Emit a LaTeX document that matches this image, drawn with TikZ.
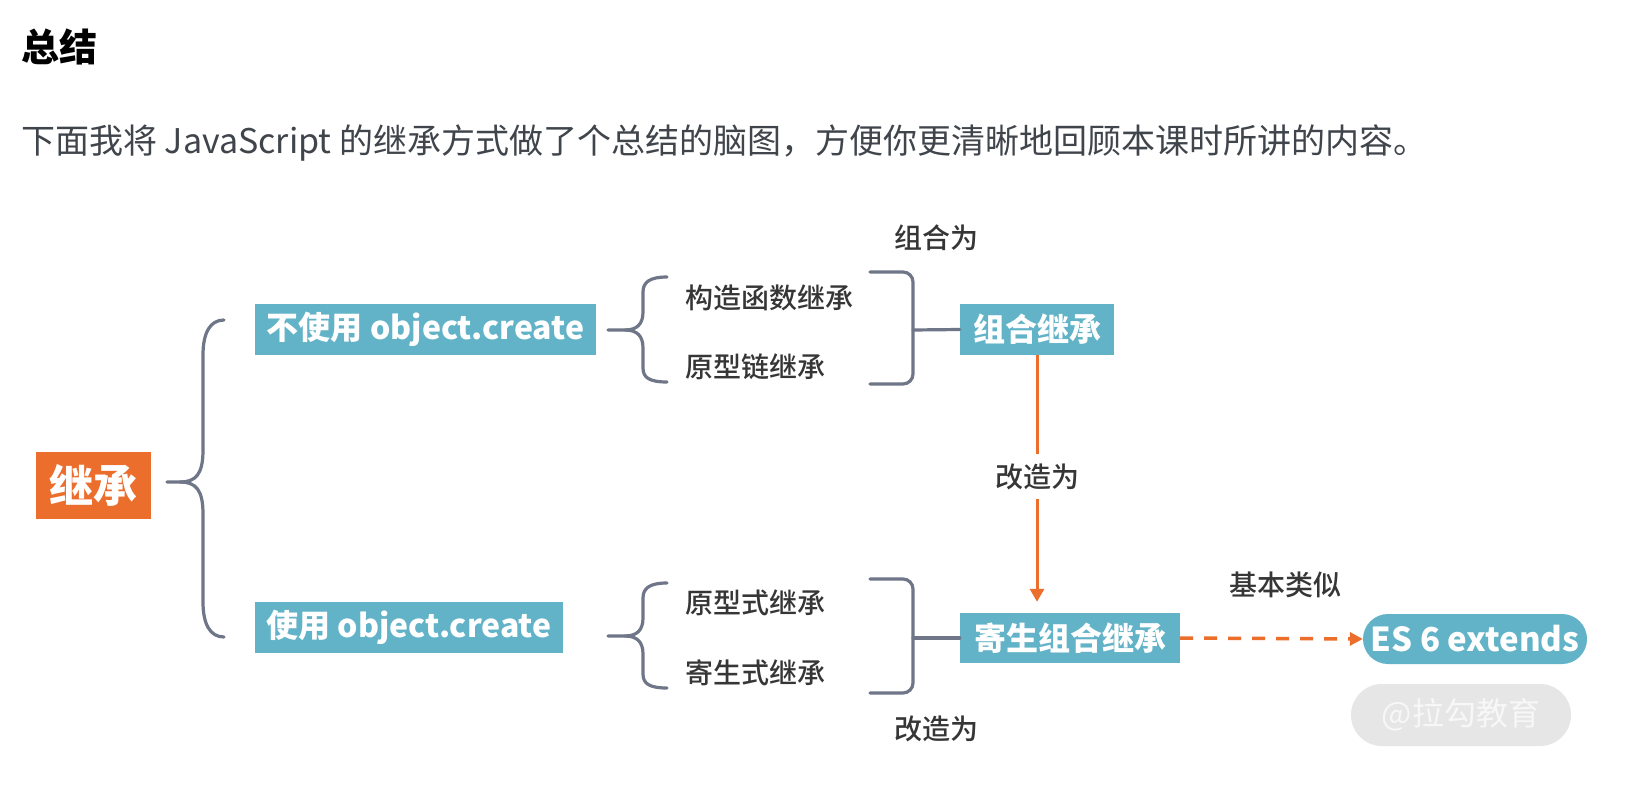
\documentclass[tikz,border=0pt]{standalone}
\usepackage{fontspec}
\usetikzlibrary{arrows.meta}
\newfontfamily\cjk{Noto Sans CJK SC}
\newfontfamily\cjkm{Noto Sans CJK SC Medium}
\definecolor{boxteal}{HTML}{62B3C7}
\definecolor{jorange}{HTML}{EC6E2D}
\definecolor{brkgray}{HTML}{6F7688}
\definecolor{lblgray}{HTML}{363636}
\definecolor{paragray}{HTML}{40454C}
\definecolor{wmfill}{HTML}{E6E6E6}
\definecolor{wmtext}{HTML}{F7F7F7}
\newcommand\fsz[1]{\fontsize{#1}{#1}\selectfont}
\begin{document}
\begin{tikzpicture}[x=1pt,y=-1pt,
  tbox/.style={fill=boxteal, text=white, inner sep=0pt, font=\cjk\bfseries\fsz{32}},
  lbl/.style={text=lblgray, inner sep=0pt, font=\cjkm\fsz{28}},
  brk/.style={draw=brkgray, line width=3.2pt, line cap=round, line join=round},
  arrline/.style={draw=jorange, line width=3pt},
  arr/.style={arrline, -{Triangle[length=13pt,width=14pt]}}]

\useasboundingbox (0,0) rectangle (1640,784);
\fill[white] (0,0) rectangle (1640,784);

% heading and paragraph
\node[anchor=west, inner sep=0pt, font=\cjk\bfseries\fsz{38}] (title) at (21,47) {总结};
\node[anchor=west, inner sep=0pt, text=paragray, font=\cjk\fsz{34}] (para) at (21,143)
  {下面我将 JavaScript 的继承方式做了个总结的脑图，方便你更清晰地回顾本课时所讲的内容。};

% nodes
\node[fill=jorange, text=white, inner sep=0pt, minimum width=115pt, minimum height=67pt,
  font=\cjk\bfseries\fsz{44}] (root) at (93.5,485.5) {继承};
\node[tbox, minimum width=341pt, minimum height=51pt] (nouse) at (425.5,329.5) {不使用 object.create};
\node[tbox, minimum width=308pt, minimum height=51pt] (use) at (409,627.5) {使用 object.create};
\node[lbl, anchor=west] (gz) at (685,298) {构造函数继承};
\node[lbl, anchor=west] (yxl) at (685,367) {原型链继承};
\node[lbl, anchor=west] (yxs) at (685,603) {原型式继承};
\node[lbl, anchor=west] (jss) at (685,673) {寄生式继承};
\node[tbox, minimum width=154pt, minimum height=51pt] (zh) at (1037,329.5) {组合继承};
\node[tbox, minimum width=220pt, minimum height=50pt] (jszh) at (1070,638) {寄生组合继承};
\node[tbox, rounded corners=25pt, minimum width=224pt, minimum height=50pt,
  font=\cjk\bfseries\fsz{33}] (es6) at (1475,639) {ES 6 extends};
\node[fill=wmfill, text=wmtext, rounded corners=31pt, minimum width=220pt, minimum height=62pt,
  inner sep=0pt, font=\cjk\fsz{32}] (wm) at (1461,715) {@拉勾教育};
\node[lbl] (l1) at (936,238) {组合为};
\node[lbl] (l2) at (1037,477) {改造为};
\node[lbl] (l3) at (936,729) {改造为};
\node[lbl] (l4) at (1285,585) {基本类似};

% brace coordinates
\coordinate (bTop) at (224,320);
\coordinate (bBot) at (224,637);
\coordinate (bTip) at (167,482);
\coordinate (s1Top) at (667,277);
\coordinate (s1Bot) at (667,382);
\coordinate (s1Tip) at (608,330);
\coordinate (s2Top) at (667,583);
\coordinate (s2Bot) at (667,688);
\coordinate (s2Tip) at (608,636);
\coordinate (r1Top) at (870,272);
\coordinate (r1Bot) at (870,384);
\coordinate (r1Mid) at (913,330);
\coordinate (r2Top) at (870,579);
\coordinate (r2Bot) at (870,693);
\coordinate (r2Mid) at (913,638);

% big brace
\draw[brk] (bTop) .. controls (210,320) and (203,333) .. (203,355) -- (203,450)
  .. controls (203,474) and (196,482) .. (180,482) -- (bTip);
\draw[brk] (180,482) .. controls (196,482) and (203,490) .. (203,514) -- (203,602)
  .. controls (203,624) and (210,637) .. (bBot);

% small brace 1
\draw[brk] (s1Top) .. controls (650,277) and (643,282) .. (643,292) -- (643,312)
  .. controls (643,324) and (637,330) .. (625,330) -- (s1Tip);
\draw[brk] (625,330) .. controls (637,330) and (643,336) .. (643,348) -- (643,368)
  .. controls (643,378) and (650,382) .. (s1Bot);

% small brace 2
\draw[brk] (s2Top) .. controls (650,583) and (643,588) .. (643,598) -- (643,618)
  .. controls (643,630) and (637,636) .. (625,636) -- (s2Tip);
\draw[brk] (625,636) .. controls (637,636) and (643,642) .. (643,654) -- (643,674)
  .. controls (643,684) and (650,688) .. (s2Bot);

% right brackets
\draw[brk, rounded corners=10pt] (r1Top) -| (r1Mid) |- (r1Bot);
\draw[brk] (r1Mid) -- (zh.west);
\draw[brk, rounded corners=10pt] (r2Top) -| (r2Mid) |- (r2Bot);
\draw[brk] (r2Mid) -- (jszh.west);

% arrows
\draw[arrline, shorten >=10pt] (zh.south) -- (l2.north);
\draw[arr, shorten <=9pt, shorten >=11pt] (l2.south) -- (l2.south |- jszh.north);
\draw[jorange, line width=3.5pt, dash pattern=on 13pt off 11pt,
  -{Triangle[length=13pt,width=13pt]}] (jszh.east) -- (es6.west);
\end{tikzpicture}
\end{document}
